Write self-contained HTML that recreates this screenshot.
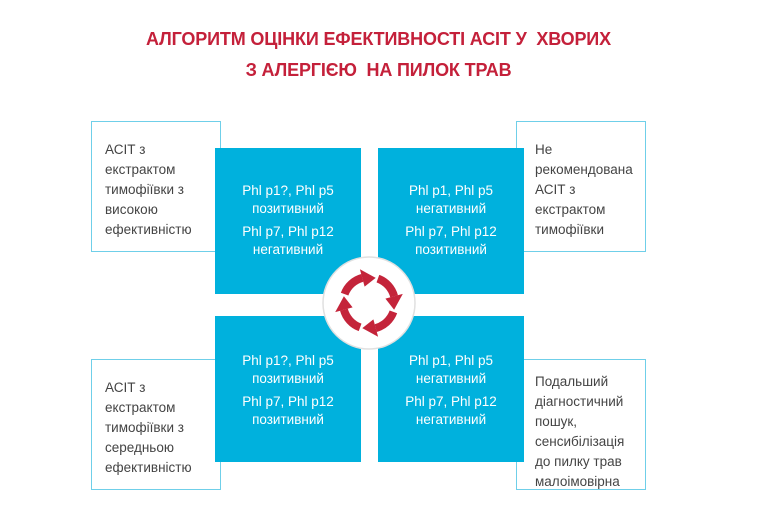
<!DOCTYPE html>
<html><head><meta charset="utf-8"><style>
body{margin:0;width:757px;height:526px;background:#fff;position:relative;overflow:hidden;font-family:"Liberation Sans","DejaVu Sans",sans-serif}
.t{position:absolute;left:0;width:757px;text-align:center;color:#c4203a;font-size:18px;font-weight:bold;letter-spacing:-0.15px}
.o{position:absolute;width:130px;height:131px;border:1px solid #6fcfe9;box-sizing:border-box;font-size:13.5px;line-height:20px;color:#444;padding:18px 0 0 13px}
.b{position:absolute;width:146px;height:146px;background:#00b1dd;color:#fff;text-align:center;font-size:13.5px;line-height:18px;box-sizing:border-box;padding-top:34px}
.b p{margin:0 0 5px}
</style></head><body>
<div class="t" style="top:29px">АЛГОРИТМ ОЦІНКИ ЕФЕКТИВНОСТІ АСІТ У&nbsp; ХВОРИХ</div>
<div class="t" style="top:60px">З АЛЕРГІЄЮ&nbsp; НА ПИЛОК ТРАВ</div>
<div class="o" style="left:91px;top:121px">АСІТ з<br>екстрактом<br>тимофіївки з<br>високою<br>ефективністю</div>
<div class="o" style="left:516px;top:121px;padding-left:18px">Не<br>рекомендована<br>АСІТ з<br>екстрактом<br>тимофіївки</div>
<div class="o" style="left:91px;top:359px;padding-top:18px">АСІТ з<br>екстрактом<br>тимофіївки з<br>середньою<br>ефективністю</div>
<div class="o" style="left:516px;top:359px;padding-left:18px;padding-top:12px">Подальший<br>діагностичний<br>пошук,<br>сенсибілізація<br>до пилку трав<br>малоімовірна</div>
<div class="b" style="left:215px;top:148px"><p>Phl p1?, Phl p5<br>позитивний</p><p>Phl p7, Phl p12<br>негативний</p></div>
<div class="b" style="left:378px;top:148px"><p>Phl p1, Phl p5<br>негативний</p><p>Phl p7, Phl p12<br>позитивний</p></div>
<div class="b" style="left:215px;top:316px;padding-top:36px"><p>Phl p1?, Phl p5<br>позитивний</p><p>Phl p7, Phl p12<br>позитивний</p></div>
<div class="b" style="left:378px;top:316px;padding-top:36px"><p>Phl p1, Phl p5<br>негативний</p><p>Phl p7, Phl p12<br>негативний</p></div>
<svg style="position:absolute;left:319px;top:253px" width="100" height="100" viewBox="0 0 100 100">
<circle cx="50" cy="50" r="46" fill="#fff" stroke="#e0e0e0" stroke-width="1.5"/>
<g fill="none" stroke="#c4243a" stroke-width="8">
<path d="M25.6 41.1 A26 26 0 0 1 43.3 24.9"/>
<path d="M58.9 25.6 A26 26 0 0 1 75.1 43.3"/>
<path d="M74.4 58.9 A26 26 0 0 1 56.7 75.1"/>
<path d="M41.1 74.4 A26 26 0 0 1 24.9 56.7"/>
</g>
<g fill="#c4243a">
<polygon points="45.6,33.6 40.9,16.2 56.7,24.9"/>
<polygon points="66.4,45.6 83.8,40.9 75.1,56.7"/>
<polygon points="54.4,66.4 59.1,83.8 43.3,75.1"/>
<polygon points="33.6,54.4 16.2,59.1 24.9,43.3"/>
</g>
</svg>
</body></html>
